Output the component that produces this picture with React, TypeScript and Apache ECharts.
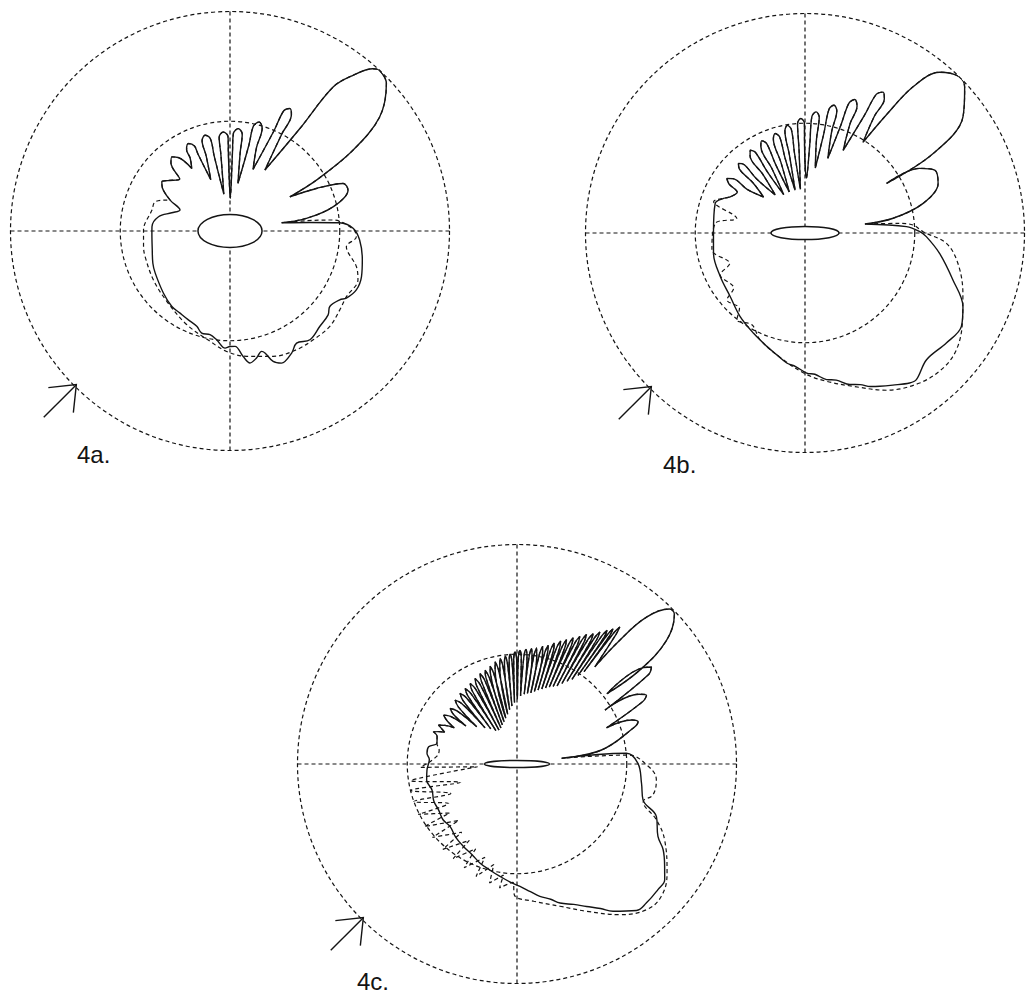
import { useEffect, useRef } from "react";
import * as echarts from "echarts";

type P = [number, number]; // [radius (outer circle = 1), angle in degrees, counter-clockwise from east]

// ---------- Plot 4a ----------
const A_LOBES: P[] = [
  [0.238, 9.1], [0.353, 9.4], [0.482, 13.2], [0.569, 19.1], [0.559, 22.8], [0.439, 26.2], [0.314, 29.7],
  [0.457, 30.5], [0.67, 33.3], [0.857, 37.3], [0.979, 43.3], [1.0, 47], [0.985, 48.6], [0.904, 51.7],
  [0.807, 54.4], [0.565, 55.7], [0.32, 60.2],
  [0.5, 61.9], [0.6, 62.2], [0.621, 64], [0.6, 65.9], [0.5, 66.3], [0.3, 69.5],
  [0.4, 72.4], [0.49, 72.6], [0.514, 75], [0.49, 77.4], [0.4, 77.6], [0.22, 80.5],
  [0.36, 82.6], [0.445, 82.8], [0.468, 85.4], [0.445, 88], [0.36, 88.2], [0.15, 89.5],
  [0.35, 91.2], [0.43, 91.2], [0.452, 93.9], [0.43, 96.6], [0.35, 96.8], [0.17, 99.5],
  [0.35, 101.9], [0.43, 102], [0.451, 104.6], [0.43, 107.2], [0.36, 107.6], [0.25, 110.5],
  [0.38, 112.6], [0.42, 112.7], [0.441, 115.4], [0.42, 118.1], [0.38, 118.6], [0.334, 121.4],
  [0.41, 125.2], [0.429, 128.1], [0.41, 131], [0.33, 134],
  [0.365, 141], [0.383, 144.2], [0.365, 147.5], [0.307, 152.7],
];
const A_SOLID_REST: P[] = [
  [0.247, 157.2], [0.278, 162.6], [0.332, 168.7], [0.356, 176.9], [0.356, -178.3], [0.363, -167.5],
  [0.381, -157.3], [0.391, -150.6], [0.415, -136.9], [0.434, -127.6], [0.438, -121.3], [0.447, -115.1],
  [0.46, -109.2], [0.483, -105.5], [0.481, -100.9], [0.499, -97], [0.534, -92.4], [0.526, -90],
  [0.526, -87.5], [0.575, -84], [0.608, -81.4], [0.591, -78.2], [0.567, -75.3], [0.578, -74],
  [0.626, -71.7], [0.646, -68.7], [0.623, -63.2], [0.594, -59.3], [0.615, -53.7], [0.597, -46.8],
  [0.588, -40.5], [0.57, -37.1], [0.59, -32.1], [0.612, -30], [0.635, -25], [0.634, -19.1],
  [0.617, -12.3], [0.592, -4], [0.561, 1.3], [0.5, 4.3], [0.366, 6.1],
];
const A_DASHED_REST: P[] = [
  [0.32, 153.9], [0.366, 158.7], [0.368, 165], [0.394, 179.3], [0.4, -170], [0.404, -163.2],
  [0.414, -147.4], [0.431, -131.8], [0.47, -114.7], [0.511, -100.2], [0.549, -91.6], [0.576, -82.4],
  [0.604, -71], [0.62, -60.7], [0.624, -52.6], [0.629, -43.7], [0.616, -35.7], [0.609, -29.4],
  [0.624, -20.9], [0.598, -15.7], [0.535, -7.7], [0.576, -2.6], [0.56, 1], [0.472, 6.1], [0.35, 7.7],
];

// ---------- Plot 4b ----------
const B_LOBES: P[] = [
  [0.276, 8.5], [0.407, 9.5], [0.555, 14.1], [0.647, 20.4], [0.657, 25.9], [0.6, 29.4], [0.435, 31.3],
  [0.687, 31.8], [0.893, 36.3], [0.985, 42.4], [1.0, 45.5], [0.955, 50.1], [0.83, 53.5], [0.65, 55.5],
  [0.49, 57.4],
  [0.62, 59.3], [0.71, 59.4], [0.734, 61], [0.71, 62.8], [0.6, 63.2], [0.415, 65.2],
  [0.54, 67.6], [0.625, 67.7], [0.649, 69.5], [0.625, 71.3], [0.52, 71.6], [0.356, 73],
  [0.48, 75.3], [0.575, 75.4], [0.597, 77.2], [0.575, 79], [0.46, 79.3], [0.3, 81],
  [0.43, 83], [0.532, 83], [0.554, 84.8], [0.532, 86.6], [0.41, 86.9], [0.25, 88.5],
  [0.4, 90.3], [0.5, 90.3], [0.522, 92.1], [0.5, 93.9], [0.38, 94.1], [0.2, 96],
  [0.37, 97.5], [0.475, 97.5], [0.497, 99.3], [0.475, 101.1], [0.36, 101.3], [0.2, 103],
  [0.35, 104.9], [0.452, 104.8], [0.473, 106.7], [0.452, 108.6], [0.34, 108.8], [0.2, 111],
  [0.34, 113.2], [0.443, 113.2], [0.464, 115.1], [0.443, 117], [0.33, 117.2], [0.2, 119],
  [0.33, 121.6], [0.432, 121.6], [0.453, 123.5], [0.432, 125.4], [0.33, 125.7], [0.22, 128],
  [0.33, 131.8], [0.418, 131.7], [0.439, 133.7], [0.418, 135.7], [0.33, 136], [0.25, 139],
  [0.33, 143], [0.412, 143], [0.434, 145.1], [0.412, 147.2], [0.36, 149], [0.379, 154.2],
];
const B_SOLID_REST: P[] = [
  [0.403, 157], [0.431, 161.7], [0.417, 180], [0.427, -167.5], [0.434, -152.8], [0.447, -139.7],
  [0.482, -127.8], [0.513, -117.3], [0.545, -108.6], [0.57, -103], [0.598, -98], [0.61, -94],
  [0.638, -89.3], [0.645, -86], [0.675, -81.6], [0.685, -78], [0.72, -73.5], [0.735, -70], [0.76, -67],
  [0.777, -64], [0.8, -60], [0.833, -55.1], [0.839, -52.8], [0.8, -46.2], [0.816, -37.9], [0.83, -30.9],
  [0.794, -25], [0.707, -17.6], [0.62, -8.6], [0.553, -1.7], [0.523, 0.7], [0.463, 3.6],
];
const B_DASHED_REST: P[] = [
  [0.44, 161.1], [0.318, 167.9], [0.411, 173.9], [0.431, -169.7], [0.37, -158], [0.431, -153.7],
  [0.41, -142.4], [0.468, -139.4], [0.455, -131], [0.503, -128.1], [0.483, -120], [0.528, -112.8],
  [0.586, -99.7], [0.645, -89.3], [0.683, -81.7], [0.732, -72.6], [0.807, -62.6], [0.86, -52.6],
  [0.88, -44.4], [0.871, -37.6], [0.826, -29.8], [0.77, -20.9], [0.71, -11.2], [0.646, -4.2],
  [0.538, 0.6], [0.494, 4.2], [0.434, 5.8],
];

// ---------- Plot 4c ----------
const C_LOBES: P[] = [
  [0.205, 7.3], [0.39, 9.4], [0.56, 17.4], [0.584, 19.2], [0.56, 21], [0.44, 22], [0.64, 26.4],
  [0.668, 28], [0.64, 29.8], [0.47, 31.5], [0.725, 34.2], [0.755, 35.8], [0.725, 37.3], [0.52, 38],
  [0.704, 37.4], [0.884, 39.6], [0.99, 43.6], [0.99, 45.5], [0.892, 48.6], [0.733, 50.3], [0.567, 51.3],
  [0.745, 52.65], [0.78, 53.1], [0.745, 53.55], [0.52, 54],
  [0.72, 54.15], [0.756, 54.6], [0.72, 55.05], [0.49, 55.4],
  [0.7, 55.5], [0.735, 56], [0.7, 56.5], [0.46, 57],
  [0.675, 57.35], [0.71, 57.9], [0.675, 58.45], [0.44, 58.8],
  [0.653, 59.1], [0.688, 59.7], [0.653, 60.3], [0.42, 60.8],
  [0.635, 61.2], [0.67, 61.8], [0.635, 62.4], [0.4, 62.8],
  [0.613, 63.15], [0.648, 63.8], [0.613, 64.45], [0.39, 65],
  [0.595, 65.35], [0.63, 66], [0.595, 66.65], [0.38, 67.2],
  [0.575, 67.65], [0.61, 68.3], [0.575, 68.95], [0.37, 69.4],
  [0.56, 69.8], [0.595, 70.5], [0.56, 71.2], [0.36, 71.7],
  [0.542, 72.2], [0.577, 72.9], [0.542, 73.6], [0.35, 74.1],
  [0.524, 74.6], [0.559, 75.3], [0.524, 76], [0.34, 76.5],
  [0.514, 76.95], [0.549, 77.7], [0.514, 78.45], [0.33, 79],
  [0.501, 79.65], [0.536, 80.4], [0.501, 81.15], [0.325, 81.6],
  [0.495, 82.05], [0.53, 82.8], [0.495, 83.55], [0.32, 84.1],
  [0.488, 84.65], [0.523, 85.5], [0.488, 86.35], [0.31, 87],
  [0.483, 87.7], [0.518, 88.5], [0.483, 89.3], [0.295, 89.7],
  [0.476, 90.2], [0.511, 91], [0.476, 91.8], [0.28, 92.3],
  [0.466, 92.8], [0.501, 93.6], [0.466, 94.4], [0.265, 95],
  [0.459, 95.45], [0.494, 96.3], [0.459, 97.15], [0.25, 97.7],
  [0.452, 98.2], [0.487, 99.1], [0.452, 100], [0.23, 100.6],
  [0.441, 101.15], [0.476, 102.1], [0.441, 103.05], [0.215, 103.7],
  [0.427, 104.4], [0.462, 105.4], [0.427, 106.4], [0.2, 107],
  [0.416, 107.8], [0.451, 108.8], [0.416, 109.8], [0.19, 110.5],
  [0.41, 111.1], [0.445, 112.2], [0.41, 113.3], [0.18, 114],
  [0.4, 114.9], [0.434, 116.1], [0.4, 117.3], [0.175, 118],
  [0.39, 118.9], [0.424, 120.2], [0.39, 121.5], [0.18, 122.3],
  [0.383, 123.2], [0.417, 124.5], [0.383, 125.8], [0.2, 126.7],
  [0.38, 127.4], [0.413, 128.9], [0.38, 130.4], [0.22, 131.5],
  [0.372, 132.4], [0.405, 134.1], [0.372, 135.8], [0.25, 137.2],
  [0.365, 138.5], [0.396, 140.3], [0.365, 142.1], [0.29, 143.3],
  [0.372, 144.4], [0.402, 146.4], [0.372, 148.4], [0.33, 150],
  [0.372, 151.8], [0.399, 153.6], [0.372, 155.4], [0.36, 156.3],
  [0.385, 157.5], [0.408, 158.9], [0.385, 161], [0.377, 165.5],
];
const C_SOLID_REST: P[] = [
  [0.41, 169], [0.413, 173.2], [0.4, 177], [0.411, -176.2], [0.418, -170], [0.405, -163], [0.415, -156],
  [0.414, -149.7], [0.422, -143], [0.417, -136.9], [0.435, -130], [0.448, -123], [0.462, -116],
  [0.482, -110.4], [0.5, -104], [0.518, -98.6], [0.54, -93], [0.558, -88.6], [0.585, -84],
  [0.612, -80.2], [0.635, -76], [0.663, -72.8], [0.69, -68], [0.722, -64], [0.76, -60], [0.801, -56.9],
  [0.861, -50.8], [0.865, -47], [0.86, -41.7], [0.855, -38.1], [0.819, -34.8], [0.772, -30.4],
  [0.722, -27.2], [0.679, -20.7], [0.597, -15.9], [0.574, -8.8], [0.551, 0.3], [0.501, 5.6],
];
const C_DASHED_REST: P[] = [
  [0.36, 170], [0.37, 175], [0.44, -178], [0.18, -176], [0.49, -171], [0.27, -162], [0.5, -166],
  [0.33, -156], [0.5, -160], [0.36, -150], [0.505, -153], [0.38, -144], [0.51, -146], [0.37, -136],
  [0.51, -139], [0.4, -129], [0.515, -131], [0.41, -122], [0.52, -124], [0.43, -116], [0.53, -117],
  [0.45, -109], [0.545, -110], [0.47, -103], [0.556, -103], [0.51, -97], [0.57, -98], [0.54, -92],
  [0.6, -91], [0.63, -83], [0.677, -73.2], [0.742, -64.7], [0.831, -55.7], [0.888, -48.4],
  [0.892, -42.5], [0.845, -36], [0.756, -27.2], [0.684, -21.8], [0.6, -16.6], [0.635, -12.8],
  [0.639, -6.5], [0.59, -0.3], [0.508, 4.6],
];

// scatterer (ellipse) semi-axes, in units of the outer radius
const ELLIPSES: [number, number][] = [
  [0.146, 0.075],
  [0.155, 0.03],
  [0.148, 0.016],
];
const LABELS = ["4a.", "4b.", "4c."];

// ---------- layout ----------
const W = 1028;
const H = 994;
const R = 219.5;
const CENTERS: [number, number][] = [
  [230, 231],
  [805, 233],
  [517, 764],
];
const LABEL_POS: [number, number][] = [
  [77, 454],
  [663, 464],
  [357, 981],
];
const SMOOTH = [0.35, 0.35, 0.4];
const INK = "#141414";
const DASH = [4, 3];

const PLOTS = [
  { lobes: A_LOBES, solid: A_SOLID_REST, dashed: A_DASHED_REST },
  { lobes: B_LOBES, solid: B_SOLID_REST, dashed: B_DASHED_REST },
  { lobes: C_LOBES, solid: C_SOLID_REST, dashed: C_DASHED_REST },
];

const norm = (p: P) => [p[0], p[1] < 0 ? p[1] + 360 : p[1]];

export default function App() {
  const ref = useRef<HTMLDivElement>(null);

  useEffect(() => {
    if (!ref.current) return;
    const chart = echarts.init(ref.current, undefined, { renderer: "svg" });

    const polar = CENTERS.map((c) => ({ center: [c[0], c[1]], radius: R }));
    const angleAxis = CENTERS.map((_, i) => ({
      polarIndex: i,
      type: "value",
      min: 0,
      max: 360,
      interval: 90,
      startAngle: 0,
      clockwise: false,
      axisLine: { show: false },
      axisTick: { show: false },
      axisLabel: { show: false },
      splitLine: { show: true, lineStyle: { color: INK, width: 1.2, type: DASH } },
    }));
    const radiusAxis = CENTERS.map((_, i) => ({
      polarIndex: i,
      type: "value",
      min: 0,
      max: 1,
      interval: 0.5,
      axisLine: { show: false },
      axisTick: { show: false },
      axisLabel: { show: false },
      splitLine: { show: true, lineStyle: { color: INK, width: 1.2, type: DASH } },
    }));

    const series: any[] = [];
    PLOTS.forEach((p, i) => {
      const solid = [...p.lobes, ...p.solid, p.lobes[0]].map(norm);
      const dashed = [...p.lobes, ...p.dashed, p.lobes[0]].map(norm);
      series.push({
        type: "line",
        coordinateSystem: "polar",
        polarIndex: i,
        data: dashed,
        symbol: "none",
        smooth: SMOOTH[i],
        clip: false,
        silent: true,
        lineStyle: { color: INK, width: 1.2, type: DASH },
        z: 3,
      });
      series.push({
        type: "line",
        coordinateSystem: "polar",
        polarIndex: i,
        data: solid,
        symbol: "none",
        smooth: SMOOTH[i],
        clip: false,
        silent: true,
        lineStyle: { color: INK, width: 1.4 },
        z: 4,
      });
    });

    const graphic: any[] = [];
    CENTERS.forEach((c, i) => {
      const [ex, ey] = ELLIPSES[i];
      graphic.push({
        type: "ellipse",
        shape: { cx: c[0], cy: c[1], rx: ex * R, ry: ey * R },
        style: { fill: "#ffffff", stroke: INK, lineWidth: 1.5 },
        z: 10,
      });
      const k = Math.SQRT1_2;
      const tipX = c[0] - 0.99 * R * k;
      const tipY = c[1] + 0.99 * R * k;
      const tailX = c[0] - 1.2 * R * k;
      const tailY = c[1] + 1.2 * R * k;
      graphic.push({
        type: "line",
        shape: { x1: tailX, y1: tailY, x2: tipX, y2: tipY },
        style: { stroke: INK, lineWidth: 1.4 },
        z: 10,
      });
      graphic.push({
        type: "polyline",
        shape: {
          points: [
            [tipX - 28, tipY + 3],
            [tipX, tipY],
            [tipX - 3, tipY + 28],
          ],
        },
        style: { stroke: INK, fill: "none", lineWidth: 1.4 },
        z: 10,
      });
      graphic.push({
        type: "text",
        x: LABEL_POS[i][0],
        y: LABEL_POS[i][1],
        style: {
          text: LABELS[i],
          font: '24px "Liberation Sans", Arial, sans-serif',
          fill: INK,
          align: "left",
          verticalAlign: "middle",
        },
        z: 10,
      });
    });

    chart.setOption({
      animation: false,
      backgroundColor: "#ffffff",
      polar,
      angleAxis,
      radiusAxis,
      series,
      graphic,
    });

    return () => chart.dispose();
  }, []);

  return (
    <div
      ref={ref}
      style={{ position: "fixed", left: 0, top: 0, width: W, height: H, background: "#fff" }}
    />
  );
}
